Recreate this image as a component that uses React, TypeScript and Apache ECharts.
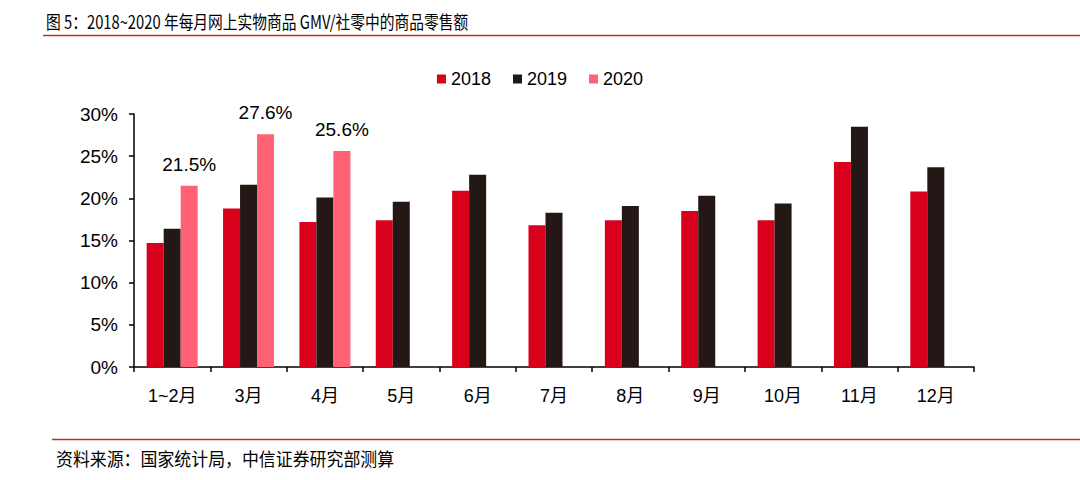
import React, { useEffect, useRef } from "react";
import * as echarts from "echarts";

const categories = ["1~2月", "3月", "4月", "5月", "6月", "7月", "8月", "9月", "10月", "11月", "12月"];
const s2018 = [14.7, 18.8, 17.2, 17.4, 20.9, 16.8, 17.4, 18.5, 17.4, 24.3, 20.8];
const s2019 = [16.4, 21.6, 20.1, 19.6, 22.8, 18.3, 19.1, 20.3, 19.4, 28.5, 23.7];
const s2020 = [21.5, 27.6, 25.6, null, null, null, null, null, null, null, null];
const yTicks = [0, 5, 10, 15, 20, 25, 30];
const seriesNames = ["2018", "2019", "2020"];
const colors = ["#d9001b", "#231815", "#ff6175"];

const FONT = "'Liberation Sans', Arial, 'Noto Sans CJK SC', sans-serif";

export default function App() {
  const ref = useRef<HTMLDivElement>(null);
  useEffect(() => {
    if (!ref.current) return;
    const chart = echarts.init(ref.current, null, { renderer: "svg" });
    const data = [s2018, s2019, s2020];
    chart.setOption({
      animation: false,
      textStyle: { fontFamily: FONT },
      grid: { left: 134, right: 106, top: 114, bottom: 113 },
      legend: {
        data: seriesNames,
        top: 65,
        left: "center",
        itemWidth: 9,
        itemHeight: 9,
        itemGap: 22,
        icon: "rect",
        textStyle: { fontSize: 18, color: "#000", fontFamily: FONT, padding: [0, 0, 0, 0] },
      },
      graphic: [
        {
          type: "text",
          x: 46,
          y: 12,
          scaleX: 0.82,
          style: {
            text: "图 5：2018~2020 年每月网上实物商品 GMV/社零中的商品零售额",
            font: "18px 'Noto Sans CJK SC', 'Liberation Sans', sans-serif",
            fill: "#000",
          },
        },
        {
          type: "line",
          shape: { x1: 43, y1: 35.5, x2: 1080, y2: 35.5 },
          style: { stroke: "#b5332e", lineWidth: 1.5 },
        },
        {
          type: "line",
          shape: { x1: 52, y1: 439.5, x2: 1080, y2: 439.5 },
          style: { stroke: "#b5332e", lineWidth: 1.5 },
        },
        {
          type: "text",
          x: 56,
          y: 449,
          scaleX: 0.94,
          style: {
            text: "资料来源：国家统计局，中信证券研究部测算",
            font: "18px 'Noto Sans CJK SC', sans-serif",
            fill: "#000",
          },
        },
      ],
      xAxis: {
        type: "category",
        data: categories,
        axisLine: { lineStyle: { color: "#000", width: 1.5 } },
        axisTick: { show: true, alignWithLabel: false, length: 5, lineStyle: { color: "#000", width: 1.5 } },
        axisLabel: { fontSize: 18, color: "#000", margin: 20, fontFamily: FONT },
      },
      yAxis: {
        type: "value",
        min: 0,
        max: 30,
        interval: 5,
        axisLine: { show: true, lineStyle: { color: "#000", width: 1.5 } },
        axisTick: { show: true, length: 5, inside: false, lineStyle: { color: "#000", width: 1.5 } },
        splitLine: { show: false },
        axisLabel: {
          fontSize: 19,
          color: "#000",
          margin: 16,
          fontFamily: FONT,
          formatter: (v: number) => (yTicks.includes(v) ? v + "%" : ""),
        },
      },
      series: seriesNames.map((name, i) => ({
        name,
        type: "bar",
        data: data[i],
        barWidth: 17,
        barGap: "0%",
        itemStyle: { color: colors[i] },
        label:
          i === 2
            ? {
                show: true,
                position: "top",
                distance: 12,
                fontSize: 19,
                color: "#000",
                fontFamily: FONT,
                formatter: (p: any) => Number(p.value).toFixed(1) + "%",
              }
            : { show: false },
      })),
    });
    return () => chart.dispose();
  }, []);
  return (
    <div
      ref={ref}
      style={{ position: "absolute", left: 0, top: 0, width: 1080, height: 480, background: "#fff" }}
    />
  );
}
